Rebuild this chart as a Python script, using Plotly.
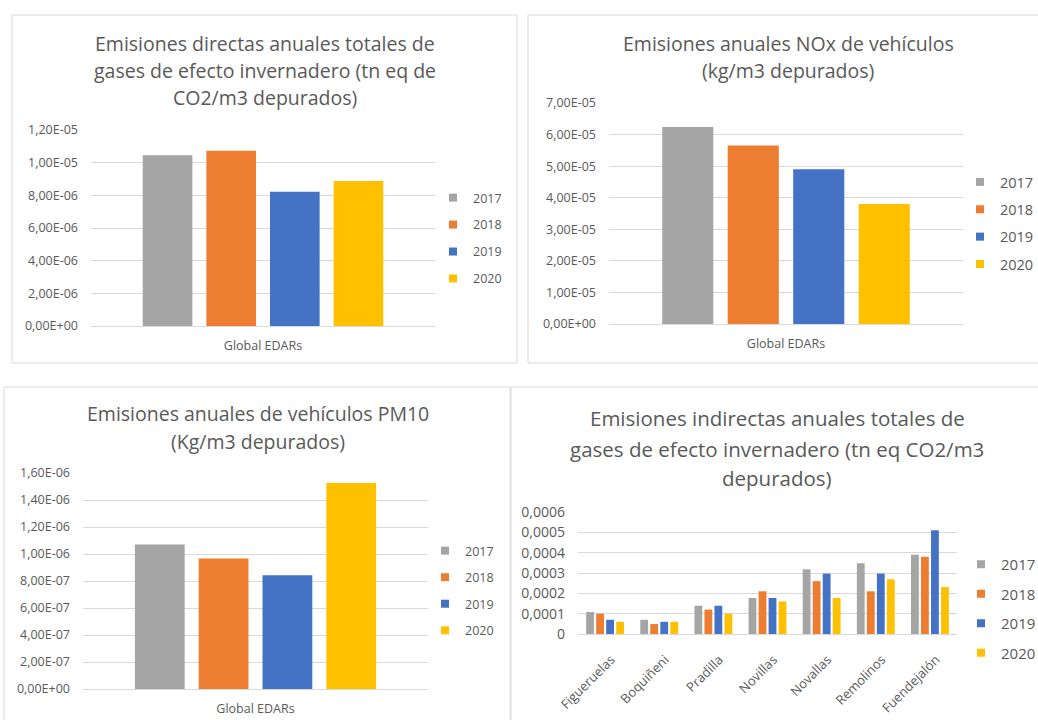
import plotly.graph_objects as go

W, H = 1038, 720

# ---- data -------------------------------------------------------------
years = ["2017", "2018", "2019", "2020"]
year_colors = ["#A5A5A5", "#ED7D31", "#4472C4", "#FFC000"]

global_cat = ["Global EDARs"]

# Emisiones directas GEI (tn eq CO2/m3), one value per year
directas = [1.045e-5, 1.073e-5, 8.22e-6, 8.88e-6]
# Emisiones NOx de vehículos (kg/m3), one value per year
nox = [6.24e-5, 5.65e-5, 4.90e-5, 3.80e-5]
# Emisiones PM10 de vehículos (kg/m3), one value per year
pm10 = [1.07e-6, 9.66e-7, 8.42e-7, 1.526e-6]

# Emisiones indirectas GEI por EDAR (tn eq CO2/m3)
edars = ["Figueruelas", "Boquiñeni", "Pradilla", "Novillas",
         "Novallas", "Remolinos", "Fuendejalón"]
indirectas_2017 = [0.000108, 0.000070, 0.000139, 0.000177, 0.000318, 0.000348, 0.000390]
indirectas_2018 = [0.000100, 0.000049, 0.000120, 0.000210, 0.000260, 0.000210, 0.000380]
indirectas_2019 = [0.000070, 0.000060, 0.000139, 0.000177, 0.000297, 0.000297, 0.000510]
indirectas_2020 = [0.000060, 0.000060, 0.000100, 0.000160, 0.000177, 0.000269, 0.000231]

# ---- tick labels (Spanish decimal comma, Excel style) -----------------
ticks_directas = [0, 2e-6, 4e-6, 6e-6, 8e-6, 1e-5, 1.2e-5]
labels_directas = ["0,00E+00", "2,00E-06", "4,00E-06", "6,00E-06",
                   "8,00E-06", "1,00E-05", "1,20E-05"]
ticks_nox = [0, 1e-5, 2e-5, 3e-5, 4e-5, 5e-5, 6e-5, 7e-5]
labels_nox = ["0,00E+00", "1,00E-05", "2,00E-05", "3,00E-05",
              "4,00E-05", "5,00E-05", "6,00E-05", "7,00E-05"]
ticks_pm10 = [0, 2e-7, 4e-7, 6e-7, 8e-7, 1e-6, 1.2e-6, 1.4e-6, 1.6e-6]
labels_pm10 = ["0,00E+00", "2,00E-07", "4,00E-07", "6,00E-07", "8,00E-07",
               "1,00E-06", "1,20E-06", "1,40E-06", "1,60E-06"]
ticks_ind = [0, 0.0001, 0.0002, 0.0003, 0.0004, 0.0005, 0.0006]
labels_ind = ["0", "0,0001", "0,0002", "0,0003", "0,0004", "0,0005", "0,0006"]

titles = [
    ["Emisiones directas anuales totales de",
     "gases de efecto invernadero (tn eq de",
     "CO2/m3 depurados)"],
    ["Emisiones anuales NOx de vehículos",
     "(kg/m3 depurados)"],
    ["Emisiones anuales de vehículos PM10",
     "(Kg/m3 depurados)"],
    ["Emisiones indirectas anuales totales de",
     "gases de efecto invernadero (tn eq CO2/m3",
     "depurados)"],
]

FONT = "Open Sans"
TXT = "#595959"
GRID = "#D9D9D9"


def px_x(v):
    return v / W


def px_y(v):
    return 1 - v / H


fig = go.Figure()

# panel geometry in pixels: plot area, title, legend, frame
panels = [
    dict(plot=(91, 130, 435, 326), title_x=265, title_y=[43, 71, 98], title_size=19.5,
         legend=(473, 183), tick_size=12.5, leg_size=12.5, gap=7.7, xlab_size=12.5,
         box=(12, 15, 517, 363)),
    dict(plot=(609, 103, 963, 324), title_x=788, title_y=[43, 71], title_size=19.5,
         legend=(1000, 166), tick_size=12.5, leg_size=14.5, gap=5.5, xlab_size=12.5,
         box=(528, 15, 1045, 363)),
    dict(plot=(83, 473, 428, 689), title_x=258, title_y=[413, 441], title_size=19.5,
         legend=(465, 536), tick_size=12.5, leg_size=12.5, gap=7.3, xlab_size=12.5,
         box=(4, 387, 510, 725)),
    dict(plot=(578, 512, 957, 634), title_x=777, title_y=[418, 449, 478], title_size=20.5,
         legend=(1001, 548), tick_size=14, leg_size=15, gap=7, xlab_size=13,
         box=(511, 387, 1045, 725)),
]

series = [
    (global_cat, [[v] for v in directas], ticks_directas, labels_directas),
    (global_cat, [[v] for v in nox], ticks_nox, labels_nox),
    (global_cat, [[v] for v in pm10], ticks_pm10, labels_pm10),
    (edars, [indirectas_2017, indirectas_2018, indirectas_2019, indirectas_2020],
     ticks_ind, labels_ind),
]

layout = dict(
    width=W, height=H,
    margin=dict(l=0, r=0, t=0, b=0, autoexpand=False),
    paper_bgcolor="white", plot_bgcolor="white",
    barmode="group", bargap=0.26, bargroupgap=0.22,
    font=dict(family=FONT, color=TXT),
    annotations=[], shapes=[],
)

for k, (p, (cats, vals, tv, tt)) in enumerate(zip(panels, series), start=1):
    sfx = "" if k == 1 else str(k)
    xa, ya = "x" + sfx, "y" + sfx
    leg = "legend" + sfx
    x0, y0, x1, y1 = p["plot"]

    for yr, col, v in zip(years, year_colors, vals):
        fig.add_trace(go.Bar(
            x=cats, y=v, name=yr, marker=dict(color=col, line=dict(width=0)),
            xaxis=xa, yaxis=ya, showlegend=False,
            legendgroup=f"p{k}-{yr}", legend=leg,
        ))
        # legend entry with a small square swatch
        fig.add_trace(go.Scatter(
            x=[cats[0]], y=[None], mode="markers", name=yr,
            marker=dict(symbol="square", size=8, color=col),
            xaxis=xa, yaxis=ya, legendgroup=f"p{k}-{yr}", legend=leg,
            hoverinfo="skip",
        ))

    layout["xaxis" + sfx] = dict(
        domain=[px_x(x0), px_x(x1)], anchor=ya, type="category",
        range=[-0.5, len(cats) - 0.5],
        showline=True, linecolor=GRID, linewidth=1, showgrid=False,
        ticks="", tickfont=dict(size=p["xlab_size"], color=TXT, family=FONT),
        tickangle=-45 if k == 4 else 0,
        ticklabelstandoff=12 if k == 4 else 8,
        ticklabelshift=6 if k == 4 else 0,
        fixedrange=True,
    )
    layout["yaxis" + sfx] = dict(
        domain=[px_y(y1), px_y(y0)], anchor=xa, range=[0, tv[-1]],
        tickvals=tv, ticktext=tt, showgrid=True, gridcolor=GRID, gridwidth=1,
        zeroline=False, showline=False, ticks="",
        tickfont=dict(size=p["tick_size"], color=TXT, family=FONT),
        ticklabelstandoff=12, fixedrange=True,
    )
    layout[leg] = dict(
        x=px_x(p["legend"][0] - 40), y=px_y(p["legend"][1]),
        xanchor="left", yanchor="top", bgcolor="rgba(0,0,0,0)",
        font=dict(size=p["leg_size"], color=TXT, family=FONT),
        traceorder="grouped", tracegroupgap=p["gap"], itemclick=False,
    )

    for line, ty in zip(titles[k - 1], p["title_y"]):
        layout["annotations"].append(dict(
            text=line, x=px_x(p["title_x"]), y=px_y(ty), xref="paper", yref="paper",
            xanchor="center", yanchor="middle", showarrow=False,
            font=dict(size=p["title_size"], color=TXT, family=FONT),
        ))

    # light frame around each chart
    bx0, by0, bx1, by1 = p["box"]
    layout["shapes"].append(dict(
        type="rect", xref="paper", yref="paper",
        x0=px_x(bx0), x1=px_x(bx1), y0=px_y(by1), y1=px_y(by0),
        line=dict(color=GRID, width=1), fillcolor="rgba(0,0,0,0)", layer="below",
    ))

fig.update_layout(**layout)
fig.write_html("out.html")
